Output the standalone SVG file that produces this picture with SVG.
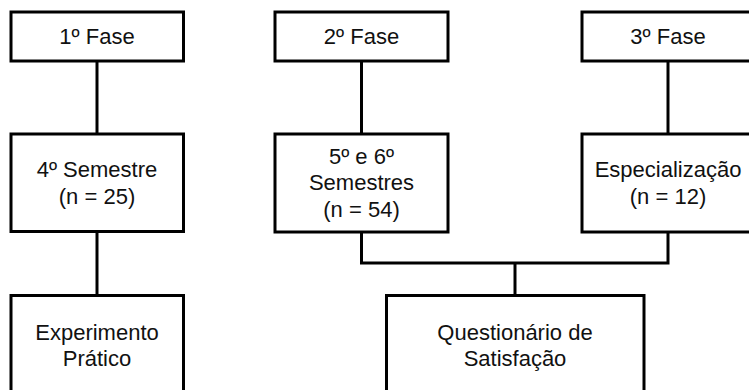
<svg xmlns="http://www.w3.org/2000/svg" width="749" height="390" viewBox="0 0 749 390">
<style>
.box{fill:#fff;stroke:#000;stroke-width:3}
.lbl{font-family:"Liberation Sans",Arial,sans-serif;font-size:22px;fill:#111;text-anchor:middle}
.conn{fill:none;stroke:#000;stroke-width:3}
</style>
<rect width="749" height="390" fill="#fff"/>
<g id="connectors">
<line class="conn" x1="97" y1="61" x2="97" y2="134"/>
<line class="conn" x1="97" y1="231" x2="97" y2="295"/>
<line class="conn" x1="361.5" y1="61" x2="361.5" y2="134"/>
<line class="conn" x1="668" y1="61" x2="668" y2="134"/>
<polyline class="conn" points="361.5,232 361.5,263 668,263 668,232"/>
<line class="conn" x1="515" y1="263" x2="515" y2="295"/>
</g>
<g id="fase1">
<rect class="box" x="11" y="12" width="172.5" height="49"/>
<text class="lbl" x="97" y="43.5">1º Fase</text>
</g>
<g id="fase2">
<rect class="box" x="275" y="12" width="173" height="49"/>
<text class="lbl" x="361.5" y="43.5">2º Fase</text>
</g>
<g id="fase3">
<rect class="box" x="582" y="12" width="173" height="49"/>
<text class="lbl" x="668" y="43.5">3º Fase</text>
</g>
<g id="sem4">
<rect class="box" x="11" y="134" width="172.5" height="97.5"/>
<text class="lbl" x="97" y="177">4º Semestre</text>
<text class="lbl" x="97" y="203.5">(n = 25)</text>
</g>
<g id="sem56">
<rect class="box" x="275" y="134" width="173" height="98"/>
<text class="lbl" x="361.5" y="163.5">5º e 6º</text>
<text class="lbl" x="361.5" y="190">Semestres</text>
<text class="lbl" x="361.5" y="216.5">(n = 54)</text>
</g>
<g id="espec">
<rect class="box" x="582" y="134" width="173" height="98"/>
<text class="lbl" x="668" y="177">Especialização</text>
<text class="lbl" x="668" y="203.5">(n = 12)</text>
</g>
<g id="experimento">
<rect class="box" x="11" y="295.5" width="172.5" height="110"/>
<text class="lbl" x="97" y="339.5">Experimento</text>
<text class="lbl" x="97" y="365.5">Prático</text>
</g>
<g id="questionario">
<rect class="box" x="386.5" y="295.5" width="257.5" height="110"/>
<text class="lbl" x="515" y="339.5">Questionário de</text>
<text class="lbl" x="515" y="365.5">Satisfação</text>
</g>
</svg>
